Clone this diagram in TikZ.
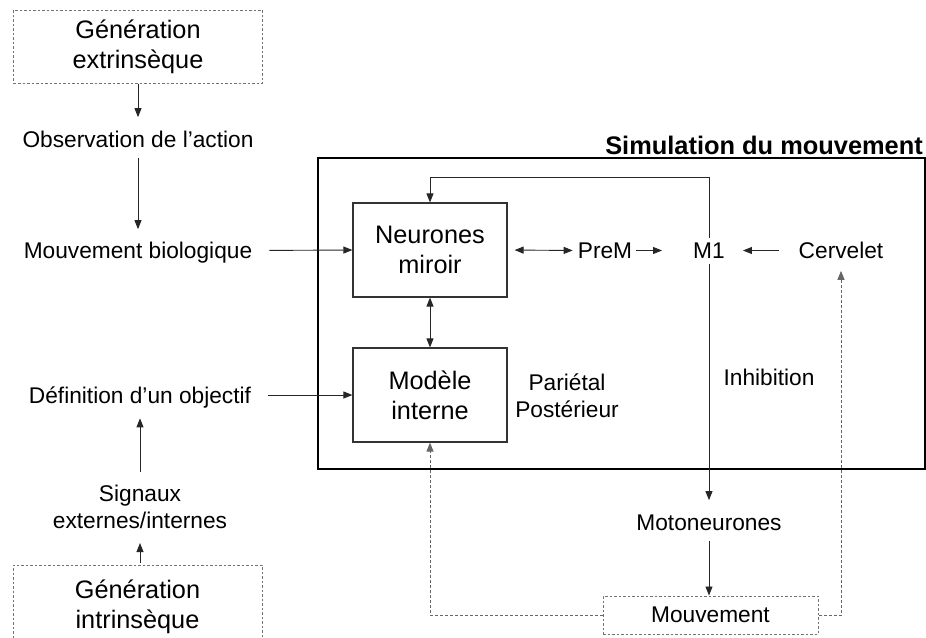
\documentclass[tikz,border=0pt]{standalone}
\usepackage{fontspec}
\setmainfont{Liberation Sans}
\usetikzlibrary{arrows.meta}
\newcommand\fsA{\fontsize{22.7}{27}\selectfont}
\newcommand\fsB{\fontsize{25.3}{30}\selectfont}
\newcommand\fsT{\fontsize{25.4}{30}\selectfont\bfseries}
\begin{document}
\begin{tikzpicture}[x=1pt,y=-1pt,
  lbl/.style={inner sep=0pt,font=\fsA,text height=16.3pt,text depth=0pt},
  mlbl/.style={inner sep=0pt,font=\fsA,align=center},
  sbox/.style={draw=black!80,line width=1.2pt,font=\fsB,align=center,minimum width=154pt,minimum height=94pt,inner sep=0pt},
  dbox/.style={draw=black!55,line width=1pt,dash pattern=on 2.5pt off 2pt,font=\fsB,align=center,inner sep=0pt},
  arr/.style={draw=black!85,line width=0.9pt,-{Triangle[length=9pt,width=7pt]}},
  darr/.style={draw=black!60,line width=1pt,dash pattern=on 3pt off 2pt,-{Triangle[length=9pt,width=7pt]}},
  btip/.style={{Triangle[length=9pt,width=7pt]}-{Triangle[length=9pt,width=7pt]}}]
\useasboundingbox (0,0) rectangle (926,637);
\clip (0,0) rectangle (926,637);
\fill[white] (0,0) rectangle (926,637);

% big frame
\draw[line width=2.6pt,black] (318,158) rectangle (925,469);
\node[font=\fsT,anchor=east,inner sep=0pt] (title) at (923,145) {Simulation du mouvement};

% left column
\node[dbox,minimum width=249pt,minimum height=73pt] (genext) at (138,46.5) {Génération\\extrinsèque};
\node[lbl] (obs) at (138,139.5) {Observation de l'action};
\node[lbl] (mbio) at (138,250.5) {Mouvement biologique};
\node[lbl] (defobj) at (140,395) {Définition d'un objectif};
\node[mlbl] (signaux) at (140,507) {Signaux\\externes/internes};
\node[dbox,minimum width=249pt,minimum height=84pt] (genint) at (137.5,607) {Génération\\intrinsèque};

% inner boxes
\node[sbox] (neur) at (430,250) {Neurones\\miroir};
\node[sbox] (model) at (430,395) {Modèle\\interne};
\node[lbl] (prem) at (605,250.5) {PreM};
\node[lbl] (m1) at (709,250.5) {M1};
\node[lbl] (cerv) at (841,250.5) {Cervelet};
\node[mlbl] (par) at (567,396) {Pariétal\\Postérieur};
\node[lbl] (inhib) at (769,377) {Inhibition};
\node[lbl] (moto) at (709,522.5) {Motoneurones};
\node[dbox,font=\fsA,minimum width=215pt,minimum height=38pt] (mouv) at (710.5,615) {Mouvement};
\coordinate (loop) at (709,177);

% connectors, left column
\draw[arr,shorten >=14pt] (genext.south -| obs) -- (obs.north);
\draw[arr,shorten <=10pt,shorten >=13pt] (obs.south) -- (mbio.north);
\draw[arr,shorten <=17pt] (mbio.east) -- (neur.west);
\draw[arr,shorten <=17pt] (defobj.east) -- (model.west);
\draw[arr,shorten <=2pt,shorten >=14pt] (genint.north -| signaux) -- (signaux.south);
\draw[arr,shorten <=13pt,shorten >=15pt] (signaux.north) -- (defobj.south);

% connectors, inside
\draw[arr,btip] (neur.south) -- (model.north);
\draw[arr,btip,shorten <=7pt,shorten >=5pt] (neur.east) -- (prem.west);
\draw[arr,shorten <=4pt,shorten >=31pt] (prem.east) -- (m1.west);
\draw[arr,shorten <=20pt,shorten >=18pt] (cerv.west) -- (m1.east);
\draw[arr,shorten <=4pt] (m1.north) -- (loop) -| (neur.north);
\draw[arr,shorten <=5pt,shorten >=14pt] (m1.south) -- (moto.north);
\draw[arr,shorten <=10pt] (moto.south) -- (moto.south |- mouv.north);
\draw[darr] (mouv.west) -| (model.south);
\draw[darr,shorten >=12pt] (mouv.east) -| (cerv.south);
\end{tikzpicture}
\end{document}
